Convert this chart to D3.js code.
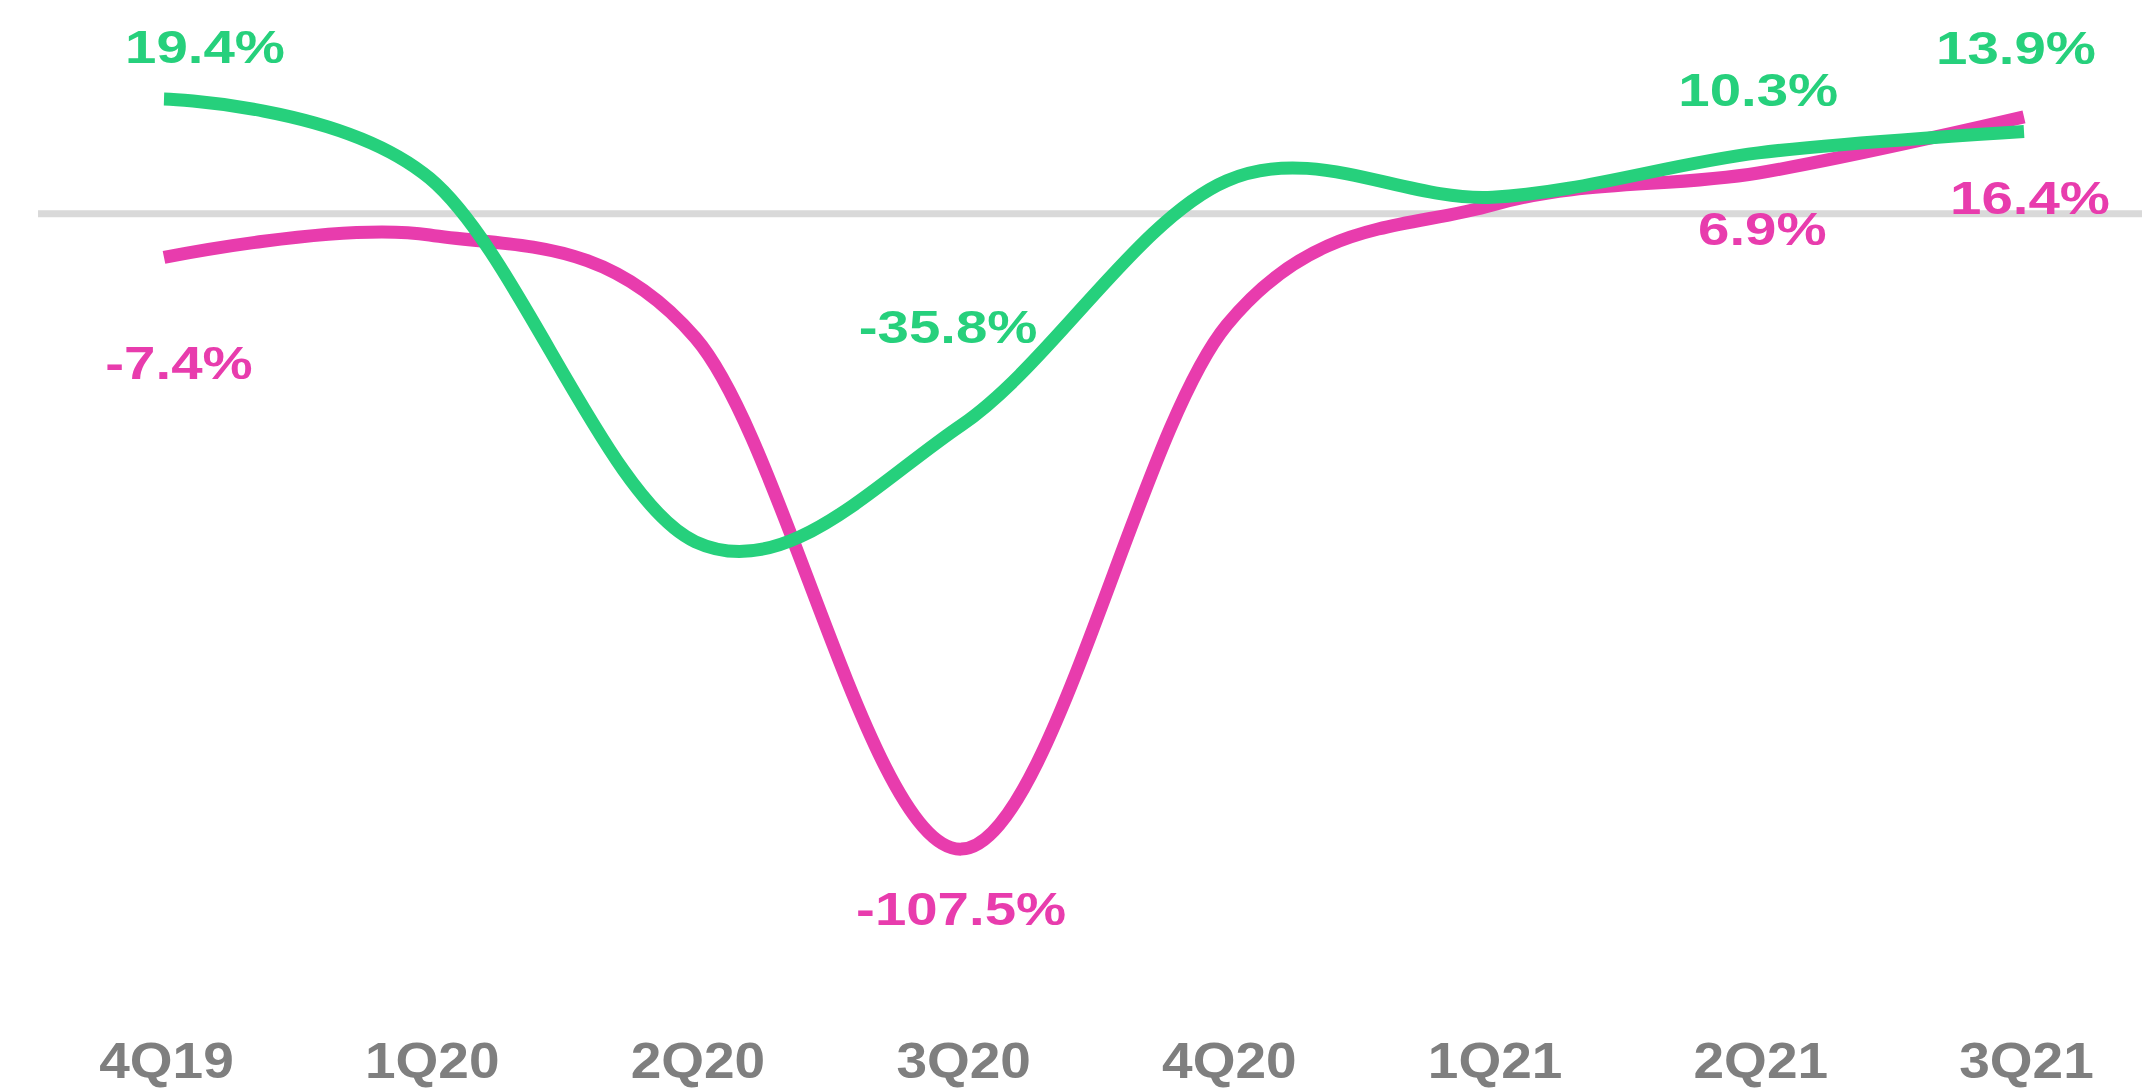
<!DOCTYPE html>
<html>
<head>
<meta charset="utf-8">
<script src="https://cdn.jsdelivr.net/npm/d3@7"></script>
<style>
  html, body { margin: 0; padding: 0; background: #ffffff; }
  svg { display: block; }
</style>
</head>
<body>
<svg id="chart" width="2142" height="1090"></svg>
<script>
// Quarterly growth, in percent
const quarters = ["4Q19", "1Q20", "2Q20", "3Q20", "4Q20", "1Q21", "2Q21", "3Q21"];
const greenSeries = [19.4, 6.0, -55.5, -35.8, 5.6, 2.8, 10.3, 13.9];
const pinkSeries  = [-7.4, -3.6, -21.0, -107.5, -18.8, 1.5, 6.9, 16.4];

// Which points carry a value label (index into the series)
const greenLabelled = [0, 3, 6, 7];
const pinkLabelled  = [0, 3, 6, 7];

// Label placement relative to each labelled point: [dx, dy to baseline]
const greenLabelOffsets = [[41, -36], [-13, -82], [0, -47], [-8, -68]];
const pinkLabelOffsets  = [[15, 122], [0, 76], [4, 72], [6, 97]];

const GREEN = "#26d07c", PINK = "#e83cad", GREY = "#7f7f7f";
const FONT = "'Liberation Sans', Arial, sans-serif";

const svg = d3.select("#chart");

const x = d3.scalePoint().domain(quarters).range([164, 2024]);
const y = d3.scaleLinear().domain([-120, 25]).range([923, 66]);

// zero baseline
svg.append("line")
  .attr("x1", 38).attr("x2", 2142)
  .attr("y1", y(0)).attr("y2", y(0))
  .attr("stroke", "#d9d9d9").attr("stroke-width", 7);

// category axis along the bottom, labels only
const xAxis = d3.axisBottom(x).tickSize(0).tickPadding(0);
const gx = svg.append("g").attr("transform", "translate(2,1042)").call(xAxis);
gx.select(".domain").remove();
gx.selectAll("text")
  .attr("dy", "0.71em")
  .attr("transform", "scale(1.1,1)")
  .attr("fill", GREY)
  .style("font-family", FONT)
  .style("font-weight", "bold")
  .style("font-size", "50px");

const line = d3.line()
  .x((d, i) => x(quarters[i]))
  .y(d => y(d))
  .curve(d3.curveCardinal.tension(0));

svg.append("path").datum(pinkSeries)
  .attr("d", line)
  .attr("fill", "none").attr("stroke", PINK)
  .attr("stroke-width", 13).attr("stroke-linecap", "butt");

svg.append("path").datum(greenSeries)
  .attr("d", line)
  .attr("fill", "none").attr("stroke", GREEN)
  .attr("stroke-width", 13).attr("stroke-linecap", "butt");

function drawLabels(series, idxs, offsets, color) {
  svg.append("g").selectAll("text")
    .data(idxs)
    .join("text")
    .attr("transform", (idx, k) =>
      `translate(${x(quarters[idx]) + offsets[k][0]},${y(series[idx]) + offsets[k][1]}) scale(1.2,1)`)
    .attr("text-anchor", "middle")
    .attr("fill", color)
    .style("font-family", FONT)
    .style("font-weight", "bold")
    .style("font-size", "47px")
    .text(idx => series[idx].toFixed(1) + "%");
}
drawLabels(greenSeries, greenLabelled, greenLabelOffsets, GREEN);
drawLabels(pinkSeries, pinkLabelled, pinkLabelOffsets, PINK);
</script>
</body>
</html>
